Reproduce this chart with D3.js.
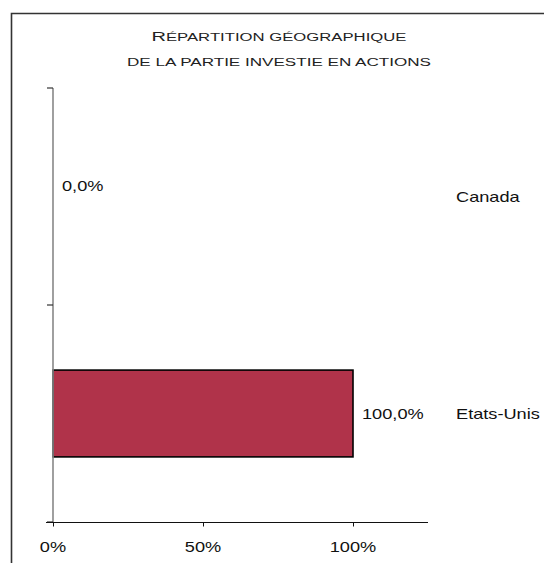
<!DOCTYPE html>
<html>
<head>
<meta charset="utf-8">
<script src="https://cdn.jsdelivr.net/npm/d3@7"></script>
<style>
  body { margin: 0; background: #fff; }
  svg { display: block; }
  text { font-family: "Liberation Sans", Arial, sans-serif; fill: #111; }
</style>
</head>
<body>
<svg id="chart"></svg>
<script>
// data
const categories = ['Canada', 'Etats-Unis'];
const values = [0, 1];
const xTickValues = [0, 0.5, 1];
const titleLines = ['Répartition géographique', 'de la partie investie en actions'];

const width = 544;
const height = 563;
const stretch = 1.3; // text in the picture is wider than normal

const svg = d3.select('#chart')
    .attr('width', width)
    .attr('height', height);

// outer frame (top and left only visible)
svg.append('path')
    .attr('d', 'M11.5,' + height + 'V13.5H' + width)
    .attr('fill', 'none')
    .attr('stroke', '#333')
    .attr('stroke-width', 1.6);

// scales
const x = d3.scaleLinear().domain([0, 1.25]).range([53, 428]);
const y = d3.scaleBand().domain(categories).range([88, 522])
    .paddingInner(0.6).paddingOuter(0.3);

// title, hand-made small caps: split each line into runs of upper / lower letters
function runs(s) {
    const out = [];
    for (const ch of s) {
        const big = ch !== ch.toLowerCase();
        if (out.length && out[out.length - 1].big === big) out[out.length - 1].t += ch;
        else out.push({ big: big, t: ch });
    }
    return out;
}
svg.selectAll('.title')
    .data(titleLines)
    .join('text')
    .attr('class', 'title')
    .attr('x', 279)
    .attr('y', (d, i) => 41 + i * 25)
    .attr('text-anchor', 'middle')
    .attr('textLength', (d, i) => i === 0 ? 255 : 304)
    .attr('lengthAdjust', 'spacingAndGlyphs')
    .style('fill', '#222')
    .selectAll('tspan')
    .data(d => runs(d))
    .join('tspan')
    .style('font-size', r => r.big ? '12px' : '10px')
    .text(r => r.t.toUpperCase());

// bars
svg.selectAll('.bar')
    .data(values)
    .join('rect')
    .attr('class', 'bar')
    .attr('x', x(0))
    .attr('y', (d, i) => y(categories[i]))
    .attr('width', d => x(d) - x(0))
    .attr('height', y.bandwidth())
    .attr('fill', '#B0334A')
    .attr('stroke', '#000')
    .attr('stroke-width', 1.6)
    .style('display', d => d > 0 ? null : 'none');

// y axis line (grey) and ticks at category boundaries
const yr = y.range();
svg.append('line')
    .attr('x1', x(0)).attr('x2', x(0))
    .attr('y1', yr[0]).attr('y2', yr[1])
    .attr('stroke', '#888')
    .attr('stroke-width', 1.6);

const bounds = d3.range(categories.length + 1).map(i => yr[0] + i * (yr[1] - yr[0]) / categories.length);
svg.selectAll('.ytick')
    .data(bounds)
    .join('line')
    .attr('class', 'ytick')
    .attr('x1', x(0) - 6).attr('x2', x(0))
    .attr('y1', d => d).attr('y2', d => d)
    .attr('stroke', '#333')
    .attr('stroke-width', 1.2);

// x axis
const xAxis = svg.append('g')
    .attr('transform', 'translate(0,' + (yr[1] + 0.5) + ')')
    .call(d3.axisBottom(x).tickValues(xTickValues).tickSize(4).tickSizeOuter(0).tickFormat(''));
xAxis.select('.domain').attr('stroke', '#111').attr('stroke-width', 1.2)
    .attr('d', 'M' + (x(0) - 7) + ',0H' + x(1.25));
xAxis.selectAll('.tick line').attr('stroke', '#111');

svg.selectAll('.xlabel')
    .data(xTickValues)
    .join('text')
    .attr('class', 'xlabel')
    .attr('text-anchor', 'middle')
    .attr('transform', d => 'translate(' + x(d) + ',552) scale(' + stretch + ',1)')
    .style('font-size', '14px')
    .text(d => d3.format('.0%')(d));

// value labels
const fmtVal = v => (v * 100).toFixed(1).replace('.', ',') + '%';
svg.selectAll('.vlabel')
    .data(values)
    .join('text')
    .attr('class', 'vlabel')
    .attr('transform', (d, i) => {
        const cy = y(categories[i]) + y.bandwidth() / 2 + 5 - (d === 0 ? 11 : 0);
        return 'translate(' + (x(d) + 9) + ',' + cy + ') scale(' + stretch + ',1)';
    })
    .style('font-size', '14px')
    .text(d => fmtVal(d));

// category labels on the right
svg.selectAll('.clabel')
    .data(categories)
    .join('text')
    .attr('class', 'clabel')
    .attr('transform', d => 'translate(456,' + (y(d) + y.bandwidth() / 2 + 5) + ') scale(' + stretch + ',1)')
    .style('font-size', '14px')
    .text(d => d);
</script>
</body>
</html>
